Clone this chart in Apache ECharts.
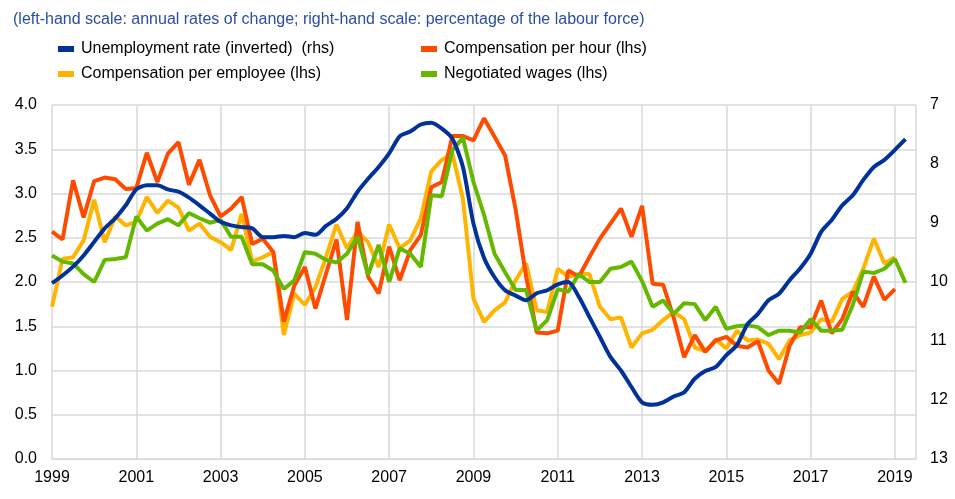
<!DOCTYPE html>
<html>
<head>
<meta charset="utf-8">
<script src="https://cdn.jsdelivr.net/npm/echarts@6/dist/echarts.min.js"></script>
<style>
  html, body { margin: 0; padding: 0; background: #fff; }
  #main { width: 955px; height: 499px; }
</style>
</head>
<body>
<div id="main"></div>
<script>
// quarterly data, 1999Q1 onwards
const startYear = 1999;
const xTicks = [1999, 2001, 2003, 2005, 2007, 2009, 2011, 2013, 2015, 2017, 2019];

const names = [
  'Unemployment rate (inverted)  (rhs)',
  'Compensation per hour (lhs)',
  'Compensation per employee (lhs)',
  'Negotiated wages (lhs)'
];

// unemployment rate, % of labour force (right axis, inverted)
const unemployment = [
  10.02, 9.89, 9.74, 9.55, 9.32, 9.09, 8.92, 8.70, 8.43, 8.36,
  8.36, 8.43, 8.47, 8.57, 8.70, 8.84, 8.98, 9.04, 9.07, 9.09,
  9.24, 9.24, 9.22, 9.24, 9.17, 9.20, 9.05, 8.93, 8.75, 8.47,
  8.25, 8.05, 7.82, 7.53, 7.45, 7.33, 7.30, 7.40, 7.57, 8.05,
  9.01, 9.59, 9.92, 10.14, 10.23, 10.31, 10.19, 10.14, 10.04, 10.00,
  10.25, 10.59, 10.93, 11.27, 11.50, 11.78, 12.04, 12.08, 12.04, 11.94,
  11.87, 11.64, 11.51, 11.44, 11.24, 11.07, 10.72, 10.54, 10.31, 10.20,
  9.97, 9.77, 9.52, 9.15, 8.95, 8.70, 8.53, 8.27, 8.05, 7.93,
  7.76, 7.58
];

// compensation per hour, annual % change
const compHour = [
  2.57, 2.48, 3.15, 2.73, 3.14, 3.18, 3.16, 3.05, 3.06, 3.46,
  3.13, 3.45, 3.58, 3.10, 3.38, 2.98, 2.74, 2.83, 2.96, 2.43,
  2.49, 2.34, 1.55, 1.96, 2.17, 1.70, 2.09, 2.48, 1.57, 2.68,
  2.06, 1.87, 2.40, 2.02, 2.36, 2.53, 3.07, 3.13, 3.65, 3.65,
  3.60, 3.85, 3.64, 3.43, 2.82, 2.06, 1.43, 1.42, 1.45, 2.13,
  2.06, 2.28, 2.49, 2.66, 2.83, 2.51, 2.86, 1.98, 1.97, 1.60,
  1.15, 1.40, 1.21, 1.34, 1.38, 1.28, 1.26, 1.33, 1.00, 0.85,
  1.28, 1.49, 1.49, 1.79, 1.42, 1.58, 1.89, 1.72, 2.06, 1.80,
  1.92
];

// compensation per employee, annual % change
const compEmployee = [
  1.72, 2.26, 2.28, 2.47, 2.93, 2.45, 2.74, 2.64, 2.68, 2.96,
  2.78, 2.92, 2.84, 2.58, 2.66, 2.51, 2.45, 2.36, 2.77, 2.23,
  2.28, 2.34, 1.40, 1.87, 1.74, 1.94, 2.28, 2.65, 2.38, 2.57,
  2.45, 2.17, 2.65, 2.38, 2.47, 2.72, 3.25, 3.38, 3.45, 2.94,
  1.81, 1.55, 1.68, 1.77, 2.02, 2.21, 1.68, 1.66, 2.15, 2.06,
  2.09, 2.09, 1.72, 1.58, 1.60, 1.26, 1.42, 1.46, 1.57, 1.66,
  1.58, 1.26, 1.22, 1.35, 1.25, 1.45, 1.34, 1.35, 1.30, 1.13,
  1.34, 1.40, 1.43, 1.58, 1.55, 1.81, 1.89, 2.15, 2.49, 2.21,
  2.28
];

// negotiated wages, annual % change
const negotiated = [
  2.30, 2.23, 2.21, 2.09, 2.00, 2.25, 2.26, 2.28, 2.74, 2.58,
  2.66, 2.71, 2.64, 2.78, 2.72, 2.67, 2.70, 2.51, 2.51, 2.20,
  2.20, 2.13, 1.92, 2.02, 2.34, 2.32, 2.25, 2.22, 2.32, 2.51,
  2.08, 2.42, 2.00, 2.38, 2.32, 2.17, 2.98, 2.97, 3.49, 3.63,
  3.13, 2.76, 2.32, 2.11, 1.91, 1.91, 1.45, 1.57, 1.92, 1.89,
  2.09, 2.00, 2.00, 2.15, 2.17, 2.23, 2.01, 1.72, 1.79, 1.64,
  1.76, 1.75, 1.57, 1.72, 1.47, 1.50, 1.51, 1.49, 1.40, 1.45,
  1.45, 1.43, 1.58, 1.45, 1.45, 1.46, 1.74, 2.12, 2.10, 2.15,
  2.26, 1.99
];

const colors = ['#003299', '#ff4b00', '#ffb400', '#65b800'];

// x = years since 1999Q1
const toPoints = arr => arr.map((v, i) => [i / 4, v]);

const chart = echarts.init(document.getElementById('main'));

const fontFamily = 'Arial, "Liberation Sans", sans-serif';
const gridColor = '#d9d9d9';

function mkSeries(idx, data, yAxisIndex, z, smooth) {
  return {
    name: names[idx],
    type: 'line',
    yAxisIndex: yAxisIndex,
    data: toPoints(data),
    showSymbol: false,
    symbol: 'none',
    smooth: smooth || false,
    z: z,
    lineStyle: { width: 4, color: colors[idx] },
    itemStyle: { color: colors[idx] },
    animation: false
  };
}

const legendBase = {
  orient: 'vertical',
  top: 36,
  icon: 'rect',
  itemWidth: 16,
  itemHeight: 6,
  itemGap: 9,
  textStyle: { fontSize: 16, color: '#000', fontFamily: fontFamily, padding: [0, 0, 0, 2] },
  selectedMode: false
};

chart.setOption({
  backgroundColor: '#fff',
  textStyle: { fontFamily: fontFamily },
  title: {
    text: '(left-hand scale: annual rates of change; right-hand scale: percentage of the labour force)',
    left: 8,
    top: 7,
    textStyle: { fontSize: 16, fontWeight: 'normal', color: '#2c4ea0', fontFamily: fontFamily }
  },
  legend: [
    Object.assign({}, legendBase, { left: 53, data: [names[0], names[2]] }),
    Object.assign({}, legendBase, { left: 416, data: [names[1], names[3]] })
  ],
  grid: { left: 52, right: 39, top: 105, bottom: 40 },
  xAxis: {
    type: 'value',
    min: 0,
    max: 20.5,
    interval: 2,
    axisLine: { show: true, lineStyle: { color: gridColor } },
    axisTick: { show: false },
    axisLabel: {
      margin: 11,
      fontSize: 16,
      color: '#000',
      showMaxLabel: false,
      formatter: v => (v % 2 === 0 ? String(startYear + v) : '')
    },
    splitLine: { show: true, lineStyle: { color: gridColor, width: 1.5 } }
  },
  yAxis: [
    {
      type: 'value',
      min: 0,
      max: 4,
      interval: 0.5,
      axisLine: { show: false },
      axisTick: { show: false },
      axisLabel: { margin: 15, fontSize: 16, color: '#000', formatter: v => v.toFixed(1) },
      splitLine: { show: true, lineStyle: { color: gridColor, width: 1.5 } }
    },
    {
      type: 'value',
      min: 7,
      max: 13,
      interval: 1,
      inverse: true,
      axisLine: { show: false },
      axisTick: { show: false },
      axisLabel: { margin: 14, fontSize: 16, color: '#000' },
      splitLine: { show: false }
    }
  ],
  series: [
    mkSeries(0, unemployment, 1, 5, 0.25),
    mkSeries(1, compHour, 0, 3),
    mkSeries(2, compEmployee, 0, 2),
    mkSeries(3, negotiated, 0, 4)
  ]
});
</script>
</body>
</html>
